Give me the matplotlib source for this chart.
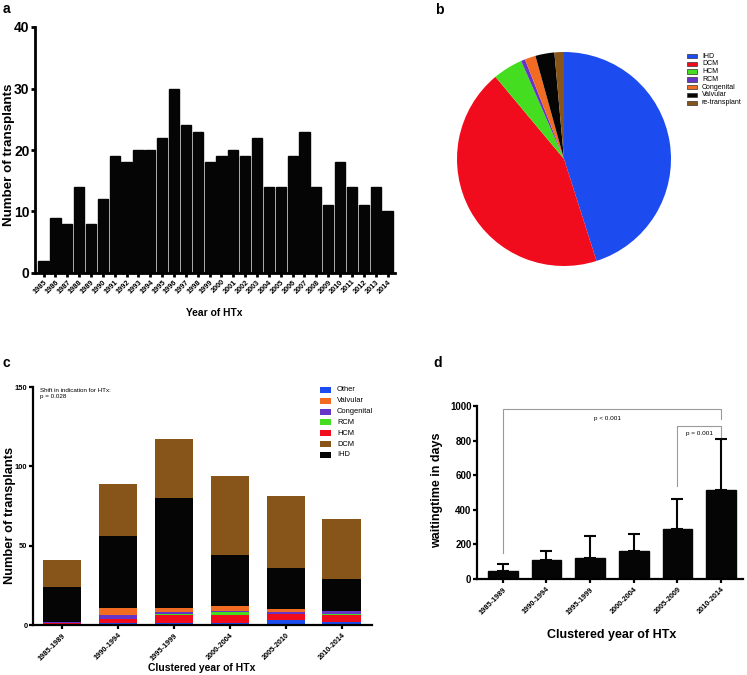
import matplotlib
matplotlib.use("Agg")
import matplotlib.pyplot as plt
from matplotlib.patches import Rectangle
import numpy as np

plt.rcParams['font.family'] = ['Liberation Sans', 'DejaVu Sans']
plt.rcParams['font.weight'] = 'bold'

# ---------------- data ----------------
years = [str(y) for y in range(1985, 2015)]
transplants = [2, 9, 8, 14, 8, 12, 19, 18, 20, 20, 22, 30, 24, 23, 18,
               19, 20, 19, 22, 14, 14, 19, 23, 14, 11, 18, 14, 11, 14, 10]

pie_labels = ['IHD', 'DCM', 'HCM', 'RCM', 'Congenital', 'Valvular', 're-transplant']
pie_values = [220, 214, 22, 3, 8, 14, 7]
pie_colors = ['#1c4cef', '#f00b1d', '#45dd1f', '#6535c8', '#f26b22', '#050505', '#87541a']

clusters_c = ['1985-1989', '1990-1994', '1995-1999', '2000-2004', '2005-2010', '2010-2014']
other = [0, 1, 1, 1, 3, 2]
hcm = [1, 3, 5, 5, 4, 4]
rcm = [0, 0, 1, 2, 0, 1]
congenital = [1, 2, 1, 1, 1, 2]
valvular = [0, 5, 3, 3, 2, 0]
ihd = [22, 45, 69, 32, 26, 20]
dcm = [17, 33, 37, 50, 45, 38]

clusters_d = ['1985-1989', '1990-1994', '1995-1999', '2000-2004', '2005-2009', '2010-2014']
wait_mean = [44, 110, 120, 162, 289, 514]
wait_err_top = [85, 164, 250, 260, 462, 809]

W, H = 747, 675
fig = plt.figure(figsize=(W / 100, H / 100), dpi=100)


def ax_px(left, top, right, bottom):
    return fig.add_axes([left / W, 1 - bottom / H, (right - left) / W, (bottom - top) / H])


def ftext(x, y, s, **kw):
    return fig.text(x / W, 1 - y / H, s, **kw)


def fig_legend(labels, colors, x_patch, y0, dy, pw, ph, x_text, fs, edge=None):
    for i, (lab, col) in enumerate(zip(labels, colors)):
        yc = y0 + i * dy
        fig.patches.append(Rectangle((x_patch / W, 1 - (yc + ph / 2) / H), pw / W, ph / H,
                                     transform=fig.transFigure, facecolor=col,
                                     edgecolor=edge if edge else 'none', linewidth=0.5))
        ftext(x_text, yc, lab, ha='left', va='center', fontsize=fs, fontweight='normal')


def style(ax, lw=1.8):
    for s in ['top', 'right']:
        ax.spines[s].set_visible(False)
    for s in ['left', 'bottom']:
        ax.spines[s].set_linewidth(lw)
    ax.tick_params(width=lw, length=3, direction='out')


# ---------------- panel a ----------------
axa = ax_px(35, 27, 395, 273)
xa = np.arange(len(years))
axa.bar(xa, transplants, width=0.86, color='#050505', edgecolor='#050505')
axa.set_xlim(-0.72, len(years) - 0.37)
axa.set_ylim(0, 40)
axa.set_yticks([0, 10, 20, 30, 40])
axa.set_xticks(xa)
axa.set_xticklabels(years, rotation=45, ha='right', rotation_mode='anchor', fontsize=5.3, fontweight='bold')
axa.tick_params(axis='y', labelsize=10, pad=1)
for t in axa.get_yticklabels():
    t.set_fontweight('bold')
style(axa, 2.0)
axa.tick_params(axis='x', length=3, pad=1)
ftext(9, 155, 'Number of transplants', ha='center', va='center', rotation=90, fontsize=9.6, fontweight='bold')
ftext(214, 313, 'Year of HTx', ha='center', va='center', fontsize=7.4, fontweight='bold')
ftext(3, 9, 'a', ha='left', va='center', fontsize=10, fontweight='bold')

# ---------------- panel b ----------------
axb = ax_px(457, 52, 671, 266)
axb.pie(pie_values, colors=pie_colors, startangle=90, counterclock=False,
        radius=1.0, wedgeprops=dict(linewidth=0))
axb.set_xlim(-1, 1)
axb.set_ylim(-1, 1)
axb.set_aspect('auto')
axb.axis('off')
fig_legend(pie_labels, pie_colors, 687, 56, 7.8, 10, 4.5, 702, 5.0, edge='#333333')
ftext(435, 10, 'b', ha='left', va='center', fontsize=10, fontweight='bold')

# ---------------- panel c ----------------
axc = ax_px(33, 387, 372, 625)
xc = np.arange(len(clusters_c))
stack = [('Other', other, '#1c4cef'), ('HCM', hcm, '#f00b1d'), ('RCM', rcm, '#45dd1f'),
         ('Congenital', congenital, '#6535c8'), ('Valvular', valvular, '#f26b22'),
         ('IHD', ihd, '#050505'), ('DCM', dcm, '#87541a')]
bottom = np.zeros(len(clusters_c))
colmap = {}
for name, vals, col in stack:
    axc.bar(xc, vals, bottom=bottom, width=0.69, color=col, edgecolor='none')
    bottom += np.array(vals)
    colmap[name] = col
axc.set_xlim(-0.52, len(clusters_c) - 0.46)
axc.set_ylim(0, 150)
axc.set_yticks([0, 50, 100, 150])
axc.set_xticks(xc)
axc.set_xticklabels(clusters_c, rotation=45, ha='right', rotation_mode='anchor', fontsize=5.3, fontweight='bold')
axc.tick_params(axis='y', labelsize=5.4, pad=1)
for t in axc.get_yticklabels():
    t.set_fontweight('bold')
style(axc, 1.6)
axc.tick_params(axis='x', pad=2)
ftext(10, 515, 'Number of transplants', ha='center', va='center', rotation=90, fontsize=9.3, fontweight='bold')
axc.text(0.022, 0.995, 'Shift in indication for HTx:\np = 0.028', transform=axc.transAxes,
         ha='left', va='top', fontsize=4.5, fontweight='normal', linespacing=1.2)
legend_order = ['Other', 'Valvular', 'Congenital', 'RCM', 'HCM', 'DCM', 'IHD']
fig_legend(legend_order, [colmap[n] for n in legend_order], 320, 390, 10.8, 11, 6, 337, 5.4)
ftext(202, 668, 'Clustered year of HTx', ha='center', va='center', fontsize=7.5, fontweight='bold')
ftext(3, 363, 'c', ha='left', va='center', fontsize=10, fontweight='bold')

# ---------------- panel d ----------------
axd = ax_px(477, 406, 743, 579)
xd = np.arange(len(clusters_d))
yerr_up = np.array(wait_err_top) - np.array(wait_mean)
axd.bar(xd, wait_mean, width=0.68, color='#050505', edgecolor='#050505')
axd.errorbar(xd, wait_mean, yerr=[np.zeros(len(xd)), yerr_up], fmt='none',
             ecolor='#050505', elinewidth=1.5, capsize=4, capthick=1.5)
axd.set_xlim(-0.59, len(clusters_d) - 0.5)
axd.set_ylim(0, 1000)
axd.set_yticks(np.arange(0, 1001, 200))
axd.set_xticks(xd)
axd.set_xticklabels(clusters_d, rotation=45, ha='right', rotation_mode='anchor', fontsize=5.3, fontweight='bold')
axd.tick_params(axis='y', labelsize=7, pad=1)
for t in axd.get_yticklabels():
    t.set_fontweight('bold')
style(axd, 1.6)
axd.tick_params(axis='x', pad=2)
ftext(437, 490, 'waitingtime in days', ha='center', va='center', rotation=90, fontsize=9, fontweight='bold')
gray = '#9a9a9a'
axd.plot([0, 0, 5, 5], [152, 985, 985, 923], color=gray, lw=0.8, clip_on=False)
axd.text(2.4, 929, 'p < 0.001', ha='center', va='center', fontsize=4.6, fontweight='normal')
axd.plot([4, 4, 5, 5], [538, 886, 886, 823], color=gray, lw=0.8, clip_on=False)
axd.text(4.5, 842, 'p = 0.001', ha='center', va='center', fontsize=4.6, fontweight='normal')
ftext(612, 635, 'Clustered year of HTx', ha='center', va='center', fontsize=9, fontweight='bold')
ftext(433, 363, 'd', ha='left', va='center', fontsize=10, fontweight='bold')

fig.savefig('out.png', dpi=100)
